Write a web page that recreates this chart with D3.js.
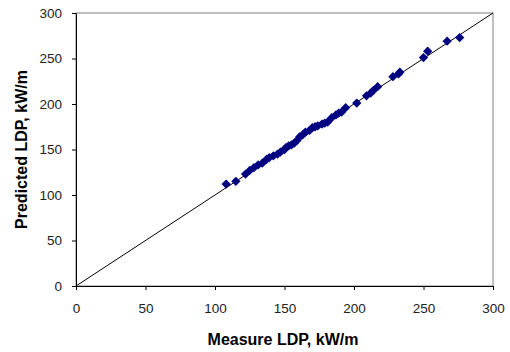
<!DOCTYPE html>
<html>
<head>
<meta charset="utf-8">
<script src="https://cdn.jsdelivr.net/npm/d3@7"></script>
<style>
  body { margin: 0; background: #fff; }
  svg { font-family: "Liberation Sans", Arial, sans-serif; }
</style>
</head>
<body>
<div id="chart"></div>
<script>
// measured vs predicted LDP, kW/m
const measured = [108, 115, 122, 125, 128, 131, 134, 137, 139, 142, 145, 147, 150, 151, 153, 155, 157, 159, 161, 163,
  165, 168, 170, 172, 174, 177, 179, 181, 184, 187, 189, 191, 194, 202, 209, 212, 214, 217, 228, 232, 233, 250, 253, 267, 276];
const predicted = [112, 115, 123, 127, 130, 133, 135, 139, 141, 143, 145, 147, 150, 152, 154, 155, 157, 160, 164, 166,
  169, 171, 174, 175, 176, 178, 179, 180, 185, 188, 190, 191, 196, 201, 209, 212, 215, 219, 230, 233, 235, 251, 258, 269, 273];
const xTicks = [0, 50, 100, 150, 200, 250, 300];
const yTicks = [0, 50, 100, 150, 200, 250, 300];

const W = 510, H = 352;
const margin = { top: 13, right: 17, bottom: 66, left: 76 };
const width = W - margin.left - margin.right;
const height = H - margin.top - margin.bottom;

const svg = d3.select('#chart').append('svg')
  .attr('width', W)
  .attr('height', H);

const g = svg.append('g')
  .attr('transform', `translate(${margin.left},${margin.top})`);

const x = d3.scaleLinear().domain([0, 300]).range([0, width]);
const y = d3.scaleLinear().domain([0, 300]).range([height, 0]);

// plot frame
g.append('rect')
  .attr('width', width)
  .attr('height', height)
  .attr('fill', 'none')
  .attr('stroke', '#808080')
  .attr('stroke-width', 1);

// 1:1 line
g.append('line')
  .attr('x1', x(0)).attr('y1', y(0))
  .attr('x2', x(300)).attr('y2', y(300))
  .attr('stroke', '#000')
  .attr('stroke-width', 1);

const xAxis = g.append('g')
  .attr('transform', `translate(0,${height})`)
  .call(d3.axisBottom(x).tickValues(xTicks).tickSize(4).tickSizeOuter(0).tickPadding(13));

const yAxis = g.append('g')
  .call(d3.axisLeft(y).tickValues(yTicks).tickSize(4).tickSizeOuter(0).tickPadding(10));

[xAxis, yAxis].forEach(a => {
  a.selectAll('text').style('font-size', '13.5px').attr('fill', '#222').style('font-family', '"Liberation Sans", Arial, sans-serif');
  a.select('.domain').attr('stroke', '#000');
  a.selectAll('.tick line').attr('stroke', '#000');
});

const pts = measured.map((m, i) => [m, predicted[i]]);
g.selectAll('.pt')
  .data(pts)
  .enter().append('path')
  .attr('class', 'pt')
  .attr('d', d3.symbol().type(d3.symbolDiamond2).size(55))
  .attr('transform', d => `translate(${x(d[0])},${y(d[1])})`)
  .attr('fill', '#000080');

svg.append('text')
  .attr('x', 283)
  .attr('y', 345)
  .attr('text-anchor', 'middle')
  .style('font-size', '16px')
  .style('font-weight', 'bold')
  .text('Measure LDP, kW/m');

svg.append('text')
  .attr('transform', `translate(27,${margin.top + height / 2}) rotate(-90)`)
  .attr('text-anchor', 'middle')
  .style('font-size', '16px')
  .style('font-weight', 'bold')
  .text('Predicted LDP, kW/m');
</script>
</body>
</html>
